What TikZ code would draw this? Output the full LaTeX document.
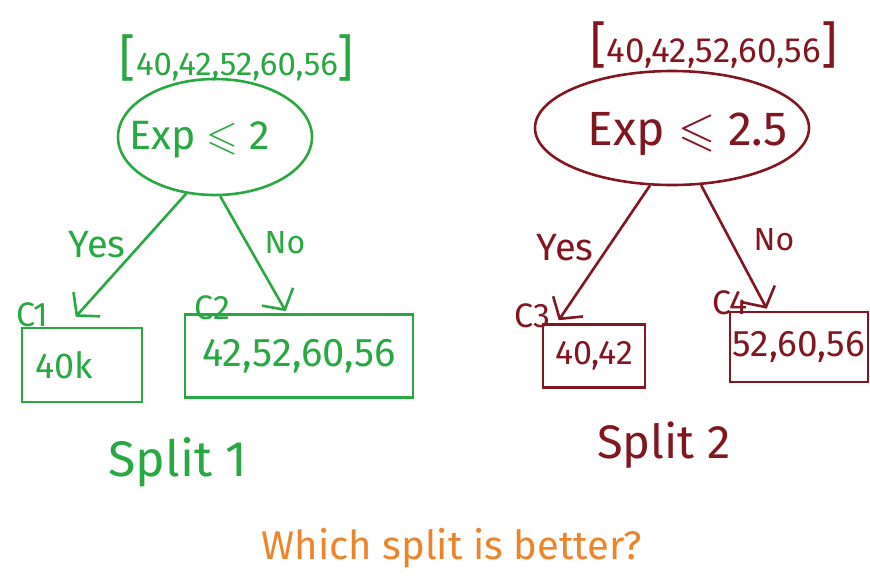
\documentclass[tikz,border=0pt]{standalone}
\usepackage{fontspec}
\usepackage{amssymb}
\setmainfont{Fira Sans}
\usetikzlibrary{arrows.meta,shapes.geometric}
\definecolor{tgreen}{RGB}{40,168,64}
\definecolor{tred}{RGB}{130,22,32}
\definecolor{torange}{RGB}{236,132,44}
\newcommand\fsz[1]{\fontsize{#1}{#1}\selectfont}
\begin{document}
\begin{tikzpicture}[x=1pt,y=-1pt,
  lbl/.style={inner sep=0pt},
  splitnode/.style={ellipse, draw, line width=2.6pt, inner sep=0pt},
  leafbox/.style={rectangle, draw, line width=2.6pt, inner sep=0pt},
  branch/.style={line width=2.6pt, -{Straight Barb[length=15pt,width=36pt,line width=2.6pt]}}]
\useasboundingbox (0,0) rectangle (870,587);

% ---------- Split 1 (green) ----------
\begin{scope}[color=tgreen]
\node[lbl, font={\fsz{33}}] (d1) at (237,58) {{\fsz{50}[}40,42,52,60,56{\fsz{50}]}};
\node[splitnode, minimum width=194pt, minimum height=116pt] (e1) at (215,137) {};
\node[lbl, font={\fsz{41}}] (t1) at ([xshift=-15pt,yshift=-3pt]e1.center) {Exp $\leqslant$ 2};
\node[leafbox, minimum width=120pt, minimum height=74pt, text width=94pt, align=left, font={\fsz{36}}] (b1) at (82,365) {40k};
\node[leafbox, minimum width=228pt, minimum height=83pt, font={\fsz{40}}] (b2) at (299,356) {42,52,60,56};
\node[lbl, font={\fsz{34}}] (c1) at (32,315) {C1};
\node[lbl, font={\fsz{34}}] (c2) at (212,308) {C2};
\node[lbl, font={\fsz{38}}] (y1) at (97,245) {Yes};
\node[lbl, font={\fsz{32}}] (n1) at (285,243) {No};
\node[lbl, font={\fsz{50}}] (s1) at (178,462) {Split 1};
\draw[branch] (e1.243) -- ([xshift=55pt,yshift=10pt]b1.north west);
\draw[branch] (e1.275) -- ([xshift=102pt,yshift=2pt]b2.north west);
\end{scope}

% ---------- Split 2 (dark red) ----------
\begin{scope}[color=tred]
\node[lbl, font={\fsz{35}}] (d2) at (714,45) {{\fsz{50}[}40,42,52,60,56{\fsz{50}]}};
\node[splitnode, minimum width=274pt, minimum height=114pt] (e2) at (672,128) {};
\node[lbl, font={\fsz{48}}] (t2) at ([xshift=16pt,yshift=-6pt]e2.center) {Exp $\leqslant$ 2.5};
\node[leafbox, minimum width=102pt, minimum height=63pt, font={\fsz{34}}] (b3) at (594,356) {40,42};
\node[leafbox, minimum width=138pt, minimum height=70pt, font={\fsz{37}}] (b4) at (799,347) {52,60,56};
\node[lbl, font={\fsz{34}}] (c3) at (532,316) {C3};
\node[lbl, font={\fsz{34}}] (c4) at (730,303) {C4};
\node[lbl, font={\fsz{38}}] (y2) at (565,248) {Yes};
\node[lbl, font={\fsz{32}}] (n2) at (774,240) {No};
\node[lbl, font={\fsz{47}}] (s2) at (664,445) {Split 2};
\draw[branch] (e2.249) -- ([xshift=17pt,yshift=3pt]b3.north west);
\draw[branch] (e2.297) -- ([xshift=38pt,yshift=2pt]b4.north west);
\end{scope}

% ---------- question ----------
\node[lbl, text=torange, font={\fsz{40}}] (q) at (452,548) {Which split is better?};
\end{tikzpicture}
\end{document}
